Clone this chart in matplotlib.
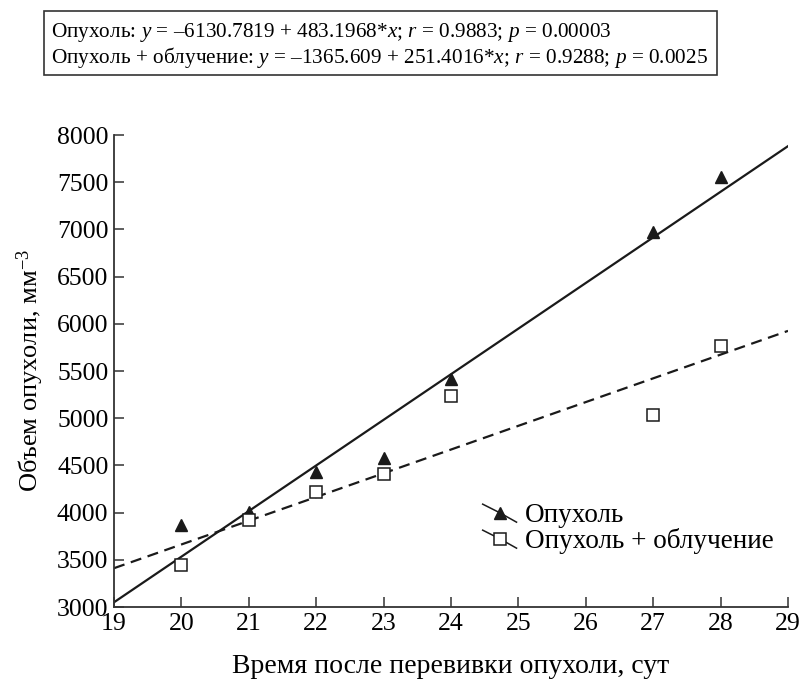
import matplotlib.pyplot as plt
from matplotlib.legend_handler import HandlerLine2D
from matplotlib.patches import Rectangle

plt.rcParams['font.family'] = ['Liberation Serif', 'DejaVu Serif']
plt.rcParams['mathtext.fontset'] = 'custom'
plt.rcParams['mathtext.rm'] = 'Liberation Serif'
plt.rcParams['mathtext.it'] = 'Liberation Serif:italic'

# data
days = [20, 21, 22, 23, 24, 27, 28]
tumor = [3870, 4010, 4430, 4580, 5420, 6970, 7550]
tumor_irr = [3440, 3920, 4220, 4410, 5240, 5030, 5760]

# regression coefficients (intercept, slope)
fit_tumor = (-6130.7819, 483.1968)
fit_irr = (-1365.609, 251.4016)
x_fit = [19, 29]

header_lines = [
    'Опухоль: $y$ = –6130.7819 + 483.1968*$x$; $r$ = 0.9883; $p$ = 0.00003',
    'Опухоль + облучение: $y$ = –1365.609 + 251.4016*$x$; $r$ = 0.9288; $p$ = 0.0025',
]


class DiagonalHandler(HandlerLine2D):
    # legend handle with a slanted line through the marker
    def create_artists(self, legend, orig_handle, xdescent, ydescent,
                       width, height, fontsize, trans):
        artists = super().create_artists(legend, orig_handle, xdescent, ydescent,
                                         width, height, fontsize, trans)
        line = artists[0]
        xd = line.get_xdata()
        mid = (height - ydescent) / 2
        line.set_data([xd[0], 0.5 * (xd[0] + xd[-1]), xd[-1]],
                      [mid + 0.45 * height, mid, mid - 0.5 * height])
        line.set_markevery([1])
        line.set_linestyle('-')
        line.set_linewidth(1.1)
        return artists


fig = plt.figure(figsize=(8.05, 6.82), dpi=100)
ax = fig.add_axes([114 / 805, 1 - 607 / 682, 674 / 805, 472 / 682])

ax.plot(x_fit, [fit_tumor[0] + fit_tumor[1] * v for v in x_fit],
        color='#1a1a1a', lw=1.6, ls='-')
ax.plot(x_fit, [fit_irr[0] + fit_irr[1] * v for v in x_fit],
        color='#1a1a1a', lw=1.6, ls=(0, (5, 3)))

h1, = ax.plot(days, tumor, ls='none', marker='^', ms=9, color='#1a1a1a',
              label='Опухоль')
h2, = ax.plot(days, tumor_irr, ls='none', marker='s', ms=8.5, color='#1a1a1a',
              mfc='white', mec='#1a1a1a', mew=1.1, label='Опухоль + облучение')

ax.set_xlim(19, 29)
ax.set_ylim(3000, 8000)
ax.set_xticks(range(19, 30))
ax.set_yticks(range(3000, 8001, 500))
ax.tick_params(direction='in', length=7, width=1.1, labelsize=18.5, pad=4,
               color='#333333')
for s in ['top', 'right']:
    ax.spines[s].set_visible(False)
for s in ['left', 'bottom']:
    ax.spines[s].set_linewidth(1.3)
    ax.spines[s].set_color('#333333')

ax.set_xlabel('Время после перевивки опухоли, сут', fontsize=20, labelpad=14)
ax.set_ylabel('Объем опухоли, мм$^{-3}$', fontsize=19, labelpad=8)

ax.legend(handles=[h1, h2], loc='upper left', bbox_to_anchor=(0.547, 0.22),
          frameon=False, fontsize=19.5, handlelength=1.25, handletextpad=0.3,
          labelspacing=0.0, borderaxespad=0, borderpad=0,
          handler_map={h1: DiagonalHandler(numpoints=1),
                       h2: DiagonalHandler(numpoints=1)})

fig.patches.append(Rectangle((44 / 805, 1 - 75 / 682), 673 / 805, 64 / 682,
                             transform=fig.transFigure, fill=False,
                             edgecolor='#333333', lw=1.2))
fig.text(51 / 805, 1 - 37 / 682, header_lines[0], fontsize=15.3, va='baseline')
fig.text(51 / 805, 1 - 63 / 682, header_lines[1], fontsize=15.3, va='baseline')

fig.savefig('out.png', dpi=100)
